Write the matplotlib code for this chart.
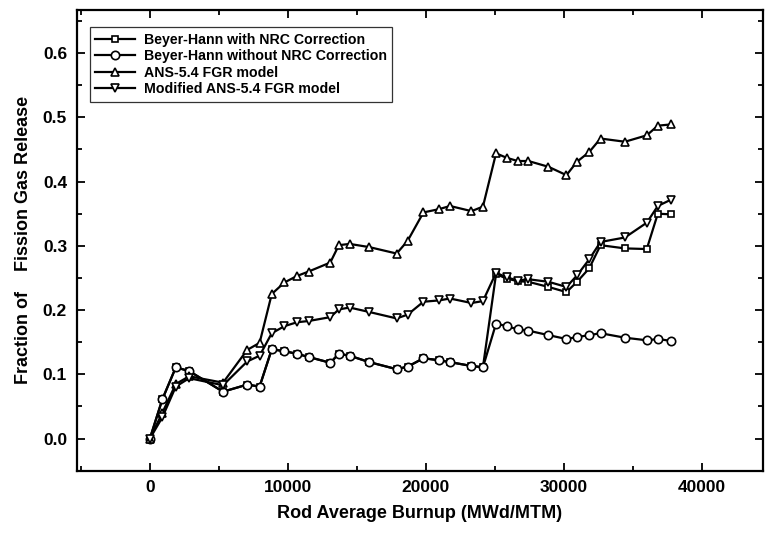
import matplotlib
matplotlib.use('Agg')
import matplotlib.pyplot as plt
from matplotlib.ticker import MultipleLocator

# 燃耗点 (MWd/MTM)
burnup = [0, 900, 1880, 2850, 5300, 7050, 7950, 8830, 9750, 10650, 11500,
          13070, 13690, 14470, 15900, 17880, 18680, 19820, 20930, 21750,
          23300, 24130, 25080, 25850, 26650, 27420, 28880, 30180, 30950,
          31830, 32650, 34420, 36000, 36800, 37770]

bh_without = [0, 0.061, 0.111, 0.105, 0.073, 0.084, 0.081, 0.139, 0.136, 0.132,
              0.127, 0.118, 0.132, 0.129, 0.119, 0.108, 0.112, 0.125, 0.122, 0.119,
              0.113, 0.111, 0.179, 0.175, 0.170, 0.168, 0.161, 0.155, 0.158, 0.161,
              0.164, 0.157, 0.153, 0.155, 0.152]

bh_with = bh_without[:22] + [0.256, 0.249, 0.245, 0.244, 0.236, 0.228, 0.244,
                             0.265, 0.301, 0.296, 0.295, 0.350, 0.349]

ans54 = [0, 0.040, 0.085, 0.097, 0.087, 0.138, 0.149, 0.225, 0.243, 0.253,
         0.260, 0.274, 0.301, 0.303, 0.298, 0.288, 0.308, 0.352, 0.357, 0.362,
         0.354, 0.361, 0.444, 0.437, 0.432, 0.432, 0.423, 0.410, 0.431, 0.446,
         0.467, 0.462, 0.472, 0.487, 0.489]

ans54_mod = [0, 0.033, 0.081, 0.094, 0.083, 0.120, 0.129, 0.164, 0.175, 0.181,
             0.183, 0.189, 0.201, 0.204, 0.197, 0.187, 0.193, 0.213, 0.215, 0.218,
             0.211, 0.214, 0.258, 0.251, 0.246, 0.248, 0.244, 0.236, 0.254, 0.279,
             0.306, 0.313, 0.336, 0.362, 0.372]

series = [
    ('Beyer-Hann with NRC Correction', bh_with, 's', 4.8),
    ('Beyer-Hann without NRC Correction', bh_without, 'o', 6.0),
    ('ANS-5.4 FGR model', ans54, '^', 5.5),
    ('Modified ANS-5.4 FGR model', ans54_mod, 'v', 5.5),
]

plt.rcParams['font.family'] = ['Liberation Sans', 'DejaVu Sans']

fig = plt.figure(figsize=(7.65, 5.36), dpi=100)
ax = fig.add_axes([0.1003, 0.1218, 0.8967, 0.8595])

for name, vals, mk, ms in series:
    ax.plot(burnup, vals, color='black', lw=1.6, marker=mk, markersize=ms,
            markerfacecolor='white', markeredgecolor='black', markeredgewidth=1.2,
            label=name)

ax.set_xlim(-5300, 44400)
ax.set_ylim(-0.05, 0.667)
ax.xaxis.set_major_locator(MultipleLocator(10000))
ax.xaxis.set_minor_locator(MultipleLocator(5000))
ax.yaxis.set_major_locator(MultipleLocator(0.1))
ax.yaxis.set_minor_locator(MultipleLocator(0.05))
ax.yaxis.set_major_formatter(matplotlib.ticker.FormatStrFormatter('%.1f'))
ax.tick_params(which='both', direction='in', top=True, right=True, width=1.3)
ax.tick_params(which='major', length=6, labelsize=12.5, pad=7)
ax.tick_params(which='minor', length=3.5)
for lab in ax.get_xticklabels() + ax.get_yticklabels():
    lab.set_fontweight('bold')
for sp in ax.spines.values():
    sp.set_linewidth(1.6)

ax.set_xlabel('Rod Average Burnup (MWd/MTM)', fontsize=13, fontweight='bold', labelpad=7)
ax.set_ylabel('Fraction of    Fission Gas Release', fontsize=13, fontweight='bold', labelpad=8)

leg = ax.legend(loc='upper left', bbox_to_anchor=(0.019, 0.963), fontsize=10.2,
                frameon=True, fancybox=False, handlelength=2.8, borderpad=0.4,
                labelspacing=0.18, handletextpad=0.6, borderaxespad=0)
leg.get_frame().set_edgecolor('black')
leg.get_frame().set_linewidth(0.9)
for t in leg.get_texts():
    t.set_fontweight('bold')

plt.savefig('out.png', dpi=100)
plt.close()
